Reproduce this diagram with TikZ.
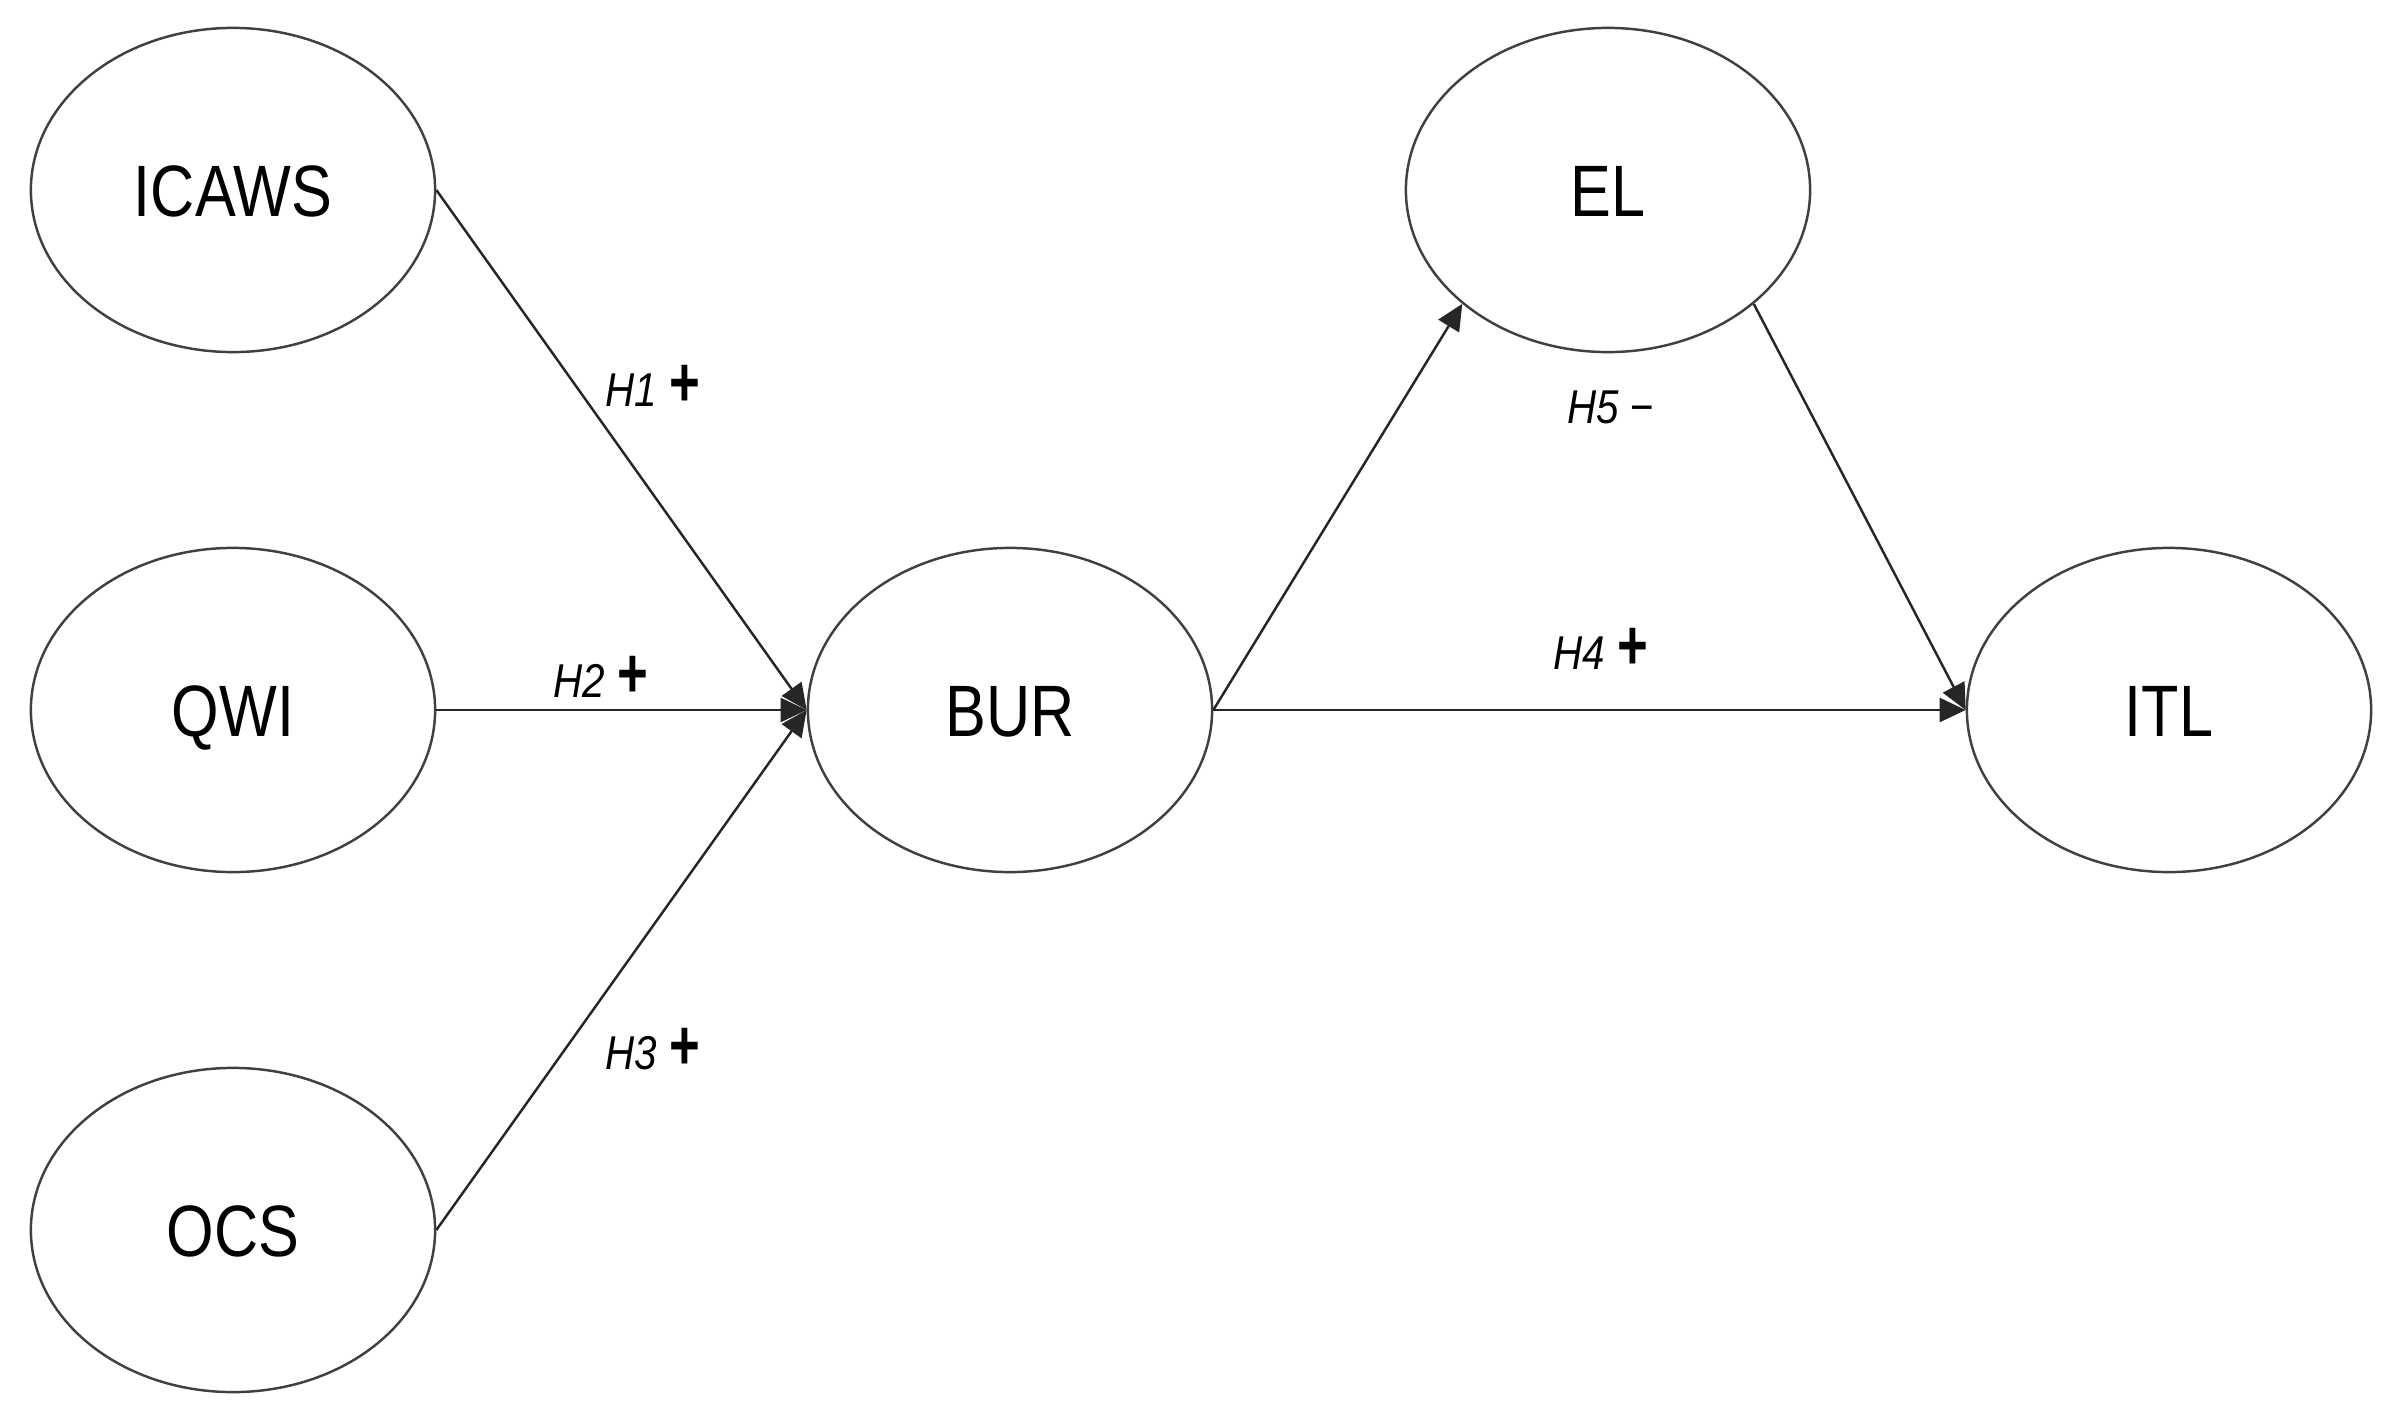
\documentclass[tikz,border=0pt]{standalone}
\usepackage{fontspec}
\usetikzlibrary{shapes.geometric,arrows.meta}
\newfontfamily\mainsf[FakeStretch=0.84]{Liberation Sans}
\newfontfamily\lblsf[FakeStretch=0.85]{Liberation Sans}
\newfontfamily\plussf[FakeStretch=0.75]{Liberation Sans}
\newcommand{\hyplus}[1]{{\lblsf\fontsize{13.5}{16}\selectfont\itshape #1}\hspace{0.12cm}{\plussf\fontsize{20}{24}\selectfont\bfseries +}}
\newcommand{\hypminus}[1]{{\lblsf\fontsize{13.5}{16}\selectfont\itshape #1}\hspace{0.11cm}{\lblsf\fontsize{13.5}{16}\selectfont −}}
\begin{document}
\begin{tikzpicture}[x=0.01cm,y=-0.01cm,
  construct/.style={ellipse, draw=black!75, line width=0.7pt, minimum width=4.04cm,
    minimum height=3.24cm, inner sep=0pt, font=\mainsf\fontsize{20.7}{24}\selectfont,
    text height=14.8pt, text depth=0pt},
  link/.style={draw=black!85, line width=0.7pt, -{Triangle[length=0.26cm,width=0.24cm]}},
  hyplabel/.style={anchor=base west, inner sep=0pt}]
\path[use as bounding box] (0,0) rectangle (2406,1424);
\node[construct] (icaws) at (233,190) {ICAWS};
\node[construct] (qwi) at (233,710) {QWI};
\node[construct] (ocs) at (233,1230) {OCS};
\node[construct] (bur) at (1010,710) {BUR};
\node[construct] (el) at (1608,190) {EL};
\node[construct] (itl) at (2169,710) {ITL};
\draw[link] (icaws.east) -- (bur.west);
\draw[link] (qwi.east) -- (bur.west);
\draw[link] (ocs.east) -- (bur.west);
\draw[link] (bur.east) -- (el.218);
\draw[link] (bur.east) -- (itl.west);
\draw[link] (el.322) -- (itl.west);
\node[hyplabel] (h1) at (605,406) {\hyplus{H1}};
\node[hyplabel] (h2) at (553,697) {\hyplus{H2}};
\node[hyplabel] (h3) at (605,1069) {\hyplus{H3}};
\node[hyplabel] (h4) at (1553,669) {\hyplus{H4}};
\node[hyplabel] (h5) at (1567,423) {\hypminus{H5}};
\end{tikzpicture}
\end{document}
